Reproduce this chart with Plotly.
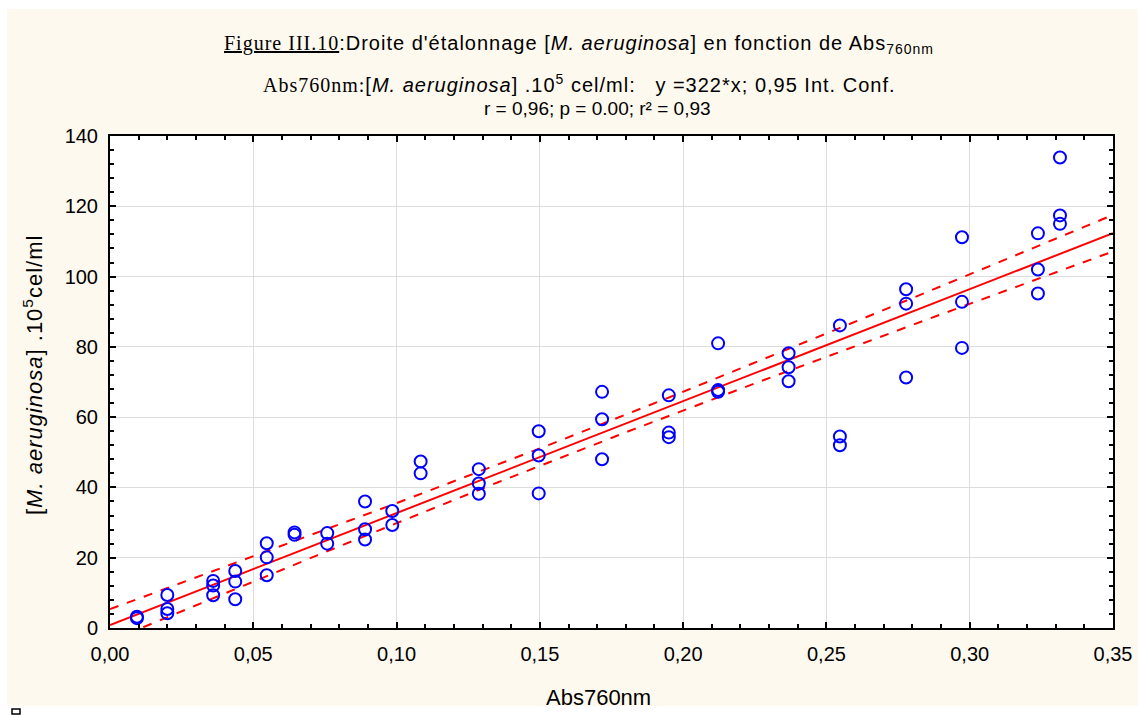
import numpy as np
import plotly.graph_objects as go

# Data
abs760 = [0.0094, 0.0094,
          0.020, 0.020, 0.020,
          0.036, 0.036, 0.036,
          0.0437, 0.0437, 0.0437,
          0.0547, 0.0547, 0.0547,
          0.0644, 0.0644,
          0.0758, 0.0758,
          0.089, 0.089, 0.089,
          0.0985, 0.0985,
          0.1084, 0.1084,
          0.1287, 0.1287, 0.1287,
          0.1496, 0.1496, 0.1496,
          0.1717, 0.1717, 0.1717,
          0.195, 0.195, 0.195,
          0.2122, 0.2122, 0.2122,
          0.2368, 0.2368, 0.2368,
          0.2547, 0.2547, 0.2547,
          0.2778, 0.2778, 0.2778,
          0.2973, 0.2973, 0.2973,
          0.3238, 0.3238, 0.3238,
          0.3315, 0.3315, 0.3315]
cells = [3.2, 2.8,
         9.4, 5.4, 4.2,
         13.4, 12.1, 9.3,
         16.2, 13.2, 8.2,
         24.1, 20.1, 15.0,
         27.2, 26.5,
         27.0, 24.0,
         36.0, 28.1, 25.2,
         33.3, 29.3,
         47.4, 44.0,
         45.2, 41.1, 38.2,
         56.0, 49.1, 38.3,
         67.2, 59.4, 48.0,
         66.2, 55.6, 54.3,
         81.0, 67.7, 67.2,
         78.2, 74.2, 70.2,
         86.1, 54.5, 52.0,
         96.4, 92.3, 71.3,
         111.2, 92.8, 79.7,
         112.3, 102.0, 95.2,
         133.9, 117.4, 115.0]

x_ticks = [0.00, 0.05, 0.10, 0.15, 0.20, 0.25, 0.30, 0.35]
y_ticks = [0, 20, 40, 60, 80, 100, 120, 140]

x = np.array(abs760)
y = np.array(cells)
n = len(x)
slope, intercept = np.polyfit(x, y, 1)
resid = y - (slope * x + intercept)
s = np.sqrt(np.sum(resid ** 2) / (n - 2))
xm = x.mean()
sxx = np.sum((x - xm) ** 2)
t_val = 2.003
xs = np.linspace(x_ticks[0], x_ticks[-1], 200)
yhat = slope * xs + intercept
half = t_val * s * np.sqrt(1.0 / n + (xs - xm) ** 2 / sxx)

# geometry helpers (pixel -> paper)
L, R, T, B = 110, 1113, 136, 628
W, H = 1138, 715
def px(p):
    return (p - L) / (R - L)
def py(p):
    return (B - p) / (B - T)

red = "#FF0000"
fig = go.Figure()
fig.add_trace(go.Scatter(x=xs, y=yhat + half, mode="lines",
                         line=dict(color=red, width=2, dash="dash"), hoverinfo="skip"))
fig.add_trace(go.Scatter(x=xs, y=yhat - half, mode="lines",
                         line=dict(color=red, width=2, dash="dash"), hoverinfo="skip"))
fig.add_trace(go.Scatter(x=xs, y=yhat, mode="lines",
                         line=dict(color=red, width=2), hoverinfo="skip"))
fig.add_trace(go.Scatter(x=abs760, y=cells, mode="markers",
                         marker=dict(symbol="circle-open", size=12, color="#0000FF",
                                     line=dict(width=2, color="#0000FF"))))

sans = "Liberation Sans, Arial, sans-serif"
serif = "Liberation Serif, Times New Roman, serif"
axis_common = dict(showline=True, linecolor="black", linewidth=2, mirror="allticks",
                   ticks="inside", ticklen=6, tickwidth=1.5, tickcolor="black",
                   showgrid=True, gridcolor="#DDDDDD", gridwidth=1, zeroline=False,
                   automargin=False,
                   tickfont=dict(family=sans, size=20, color="black"))
fig.update_xaxes(range=[0, 0.35], tickvals=x_ticks, tickformat=".2f", ticklabelstandoff=7,
                 minor=dict(dtick=0.01, ticks="inside", ticklen=4, tickcolor="black", showgrid=False),
                 **axis_common)
fig.update_yaxes(range=[0, 140], tickvals=y_ticks, ticklabelstandoff=6,
                 minor=dict(dtick=4, ticks="inside", ticklen=4, tickcolor="black", showgrid=False),
                 **axis_common)

annotations = [
    dict(x=px(579), y=py(45), text=(
        '<span style="letter-spacing:1px">'
        f'<span style="font-family:{serif};text-decoration:underline">Figure III.10</span>'
        ":Droite d'étalonnage [<i>M. aeruginosa</i>] en fonction de Abs<sub>760nm</sub></span>"),
        font=dict(family=sans, size=20, color="black")),
    dict(x=px(579), y=py(83), text=(
        '<span style="letter-spacing:1px">'
        f'<span style="font-family:{serif}">Abs760nm:</span>'
        "[<i>M. aeruginosa</i>] .10<sup>5</sup> cel/ml:   y =322*x; 0,95 Int. Conf.</span>"),
        font=dict(family=sans, size=20, color="black")),
    dict(x=px(597), y=py(108), text="r = 0,96; p = 0.00; r² = 0,93",
         font=dict(family=sans, size=19, color="black")),
    dict(x=px(598), y=py(697), text="Abs760nm",
         font=dict(family=sans, size=22, color="black")),
    dict(x=px(33), y=py(375), text=('<span style="letter-spacing:1px">'
                                    "[<i>M. aeruginosa</i>] .10<sup>5</sup>cel/ml</span>"),
         textangle=-90,
         font=dict(family=sans, size=22, color="black")),
]
for a in annotations:
    a.update(xref="paper", yref="paper", showarrow=False, xanchor="center", yanchor="middle")
fig.update_layout(annotations=annotations)

shapes = [
    dict(type="rect", xref="paper", yref="paper", x0=px(-5), x1=px(W + 5), y0=py(9), y1=py(-5),
         fillcolor="white", line=dict(width=0), layer="above"),
    dict(type="rect", xref="paper", yref="paper", x0=px(-5), x1=px(7), y0=py(H + 5), y1=py(-5),
         fillcolor="white", line=dict(width=0), layer="above"),
    dict(type="rect", xref="paper", yref="paper", x0=px(-5), x1=px(W + 5), y0=py(H + 5), y1=py(706),
         fillcolor="white", line=dict(width=0), layer="above"),
    dict(type="rect", xref="paper", yref="paper", x0=px(12), x1=px(20), y0=py(714), y1=py(709),
         fillcolor="white", line=dict(width=1.5, color="black"), layer="above"),
]
fig.update_layout(shapes=shapes)

fig.update_layout(
    width=W, height=H,
    margin=dict(l=L, r=W - R, t=T, b=H - B, pad=0),
    paper_bgcolor="#FEF9EE", plot_bgcolor="white",
    showlegend=False, separators=", ",
    font=dict(family=sans, color="black"),
)

fig.write_html("out.html", config={"displayModeBar": False},
               post_script="document.body.style.margin='0px';document.body.style.overflow='hidden';")
